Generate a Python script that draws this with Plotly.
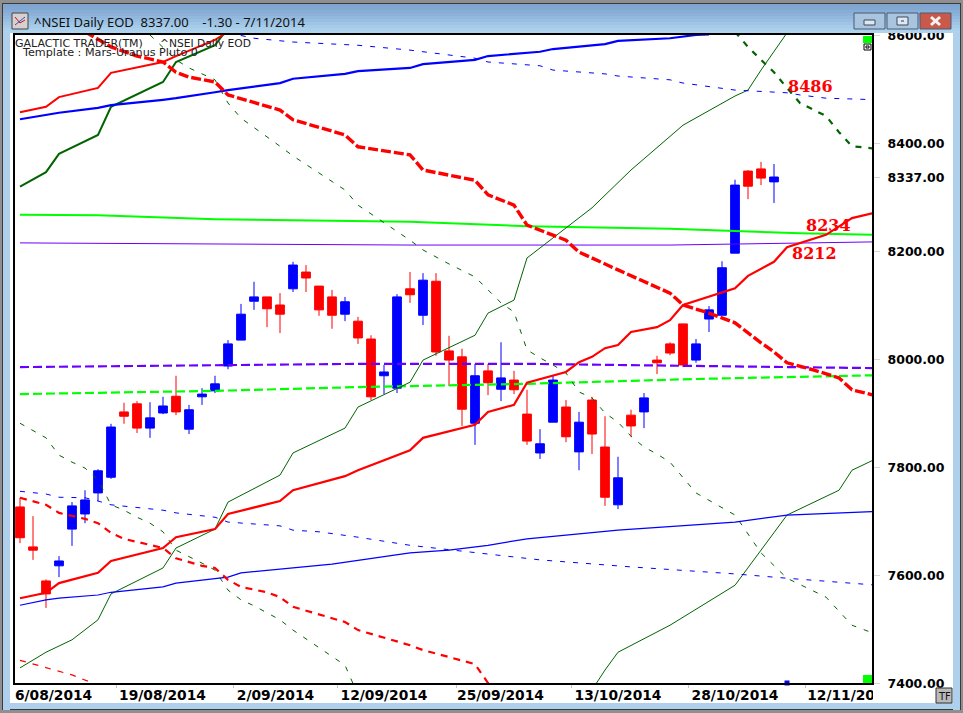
import plotly.graph_objects as go

W, H = 963, 713
L, R, T, B = 15, 872, 35, 683

# --- candles (x = bar number) ---
opens = [7726,7652,7589,7617,7685,7713,7752,7781,7902,7917,7872,7900,7931,7870,7930,7941,7987,8035,8107,8115,
         8100,8130,8161,8135,8115,8083,8070,8037,7969,7946,8130,8081,8144,8015,8004,7881,7978,7944,7961,7898,
         7826,7883,7911,7828,7924,7837,7730,7896,7902,7998,8028,8065,7998,8074,8081,8196,8348,8352,8328]
closes = [7669,7646,7565,7626,7728,7739,7793,7874,7894,7872,7891,7913,7902,7906,7935,7954,8028,8083,8115,8093,
          8083,8174,8150,8091,8081,8106,8039,7930,7976,8115,8119,8146,8013,7998,7907,7969,7956,7965,7943,7848,
          7843,7961,7856,7883,7861,7744,7780,7876,7928,7993,8011,7989,8028,8091,8169,8322,8320,8335,8337]
highs = [7743,7709,7592,7635,7735,7757,7796,7880,7919,7922,7920,7930,7969,7915,7946,7969,8035,8102,8143,8115,
         8122,8180,8174,8135,8128,8115,8078,8044,7989,8120,8161,8159,8159,8043,8019,7991,7991,8031,7978,7943,
         7870,7969,7924,7902,7930,7894,7819,7906,7937,8006,8031,8065,8037,8098,8181,8332,8350,8365,8361]
lows = [7659,7628,7539,7596,7654,7696,7737,7778,7880,7863,7854,7898,7896,7861,7915,7937,7981,8035,8091,8059,
        8048,8124,8124,8080,8056,8070,8028,7924,7935,7937,8104,8063,8006,7950,7876,7841,7933,7922,7935,7841,
        7815,7883,7846,7794,7824,7728,7722,7856,7872,7972,8007,7985,7993,8050,8081,8196,8296,8322,8289]

# --- indicator lines: bar numbers and values ---
red_top_x = [0,2,3,6,7,11,12,15,16]
red_top_v = [8457,8467,8485,8502,8530,8550,8561,8591,8606]
green_top_x = [0,2,3,6,7,11,12,15,16]
green_top_v = [8319,8346,8380,8415,8467,8513,8550,8581,8613]
blue_top_x = [0,2,3,6,7,11,12,15,16,20,21,25,26,30,31,35,36,40,41,45,46,50,52,53]
blue_top_v = [8444,8452,8456,8465,8470,8480,8483,8494,8498,8511,8519,8528,8533,8539,8546,8554,8561,8569,8574,8583,8589,8594,8600,8601]
red_dash_top_x = [5,7,9,11,12,13,15,16,20,21,25,26,30,31,35,36,38,39,42,43,46,50,51,53,55,56,57,58,59,61,63,64,66]
red_dash_top_v = [8606,8578,8561,8550,8531,8522,8513,8489,8461,8443,8415,8393,8378,8350,8331,8304,8285,8248,8220,8198,8165,8122,8100,8085,8067,8048,8030,8013,7993,7980,7965,7943,7931]
green_dash_top_x = [10,12,13,15,16,17,20,21,25,26,30,31,33,35,36,37,38,39,40,41,42,43,44,45,46,47,48,49,50,51,52,55,57,59,62,64,66]
green_dash_top_v = [8600,8554,8539,8517,8474,8446,8394,8376,8313,8285,8220,8202,8176,8152,8128,8104,8087,8017,8002,7989,7974,7939,7928,7900,7883,7857,7837,7824,7809,7780,7752,7711,7641,7594,7559,7507,7489]
blue_dash_top_x = [16,18,21,25,26,30,31,35,36,40,41,45,46,50,51,55,59,60,62,66]
blue_dash_top_v = [8604,8594,8587,8583,8581,8572,8569,8557,8550,8543,8535,8528,8524,8517,8511,8498,8493,8489,8483,8480]
green_heavy_dash_x = [55,56,57,58,59,60,62,63,64,66]
green_heavy_dash_v = [8606,8578,8554,8531,8502,8474,8450,8420,8394,8389]
green_mid_x = [0,2,4,6,7,11,12,15,16,20,21,25,26,30,31,35,36,38,39,43,44,47,51,55,56,57,59]
green_mid_v = [7428,7457,7480,7517,7565,7613,7650,7685,7735,7785,7826,7872,7911,7957,7998,8044,8085,8109,8187,8261,8280,8350,8433,8487,8498,8535,8604]
red_mid_x = [0,2,3,6,7,11,12,15,16,20,21,25,26,30,31,35,36,38,39,42,43,44,45,46,47,49,50,51,55,56,58,59,62,64,66]
red_mid_v = [7557,7567,7585,7604,7626,7650,7670,7685,7713,7737,7757,7783,7794,7831,7854,7878,7902,7915,7956,7976,7994,8004,8020,8026,8050,8059,8072,8100,8131,8154,8180,8207,8230,8261,8272]
red_dash_low_x = [0,1,2,3,4,5,6,7,8,10,11,12,14,15,16,17,19,20,21,25,26,30,31,35,36,37]
red_dash_low_v = [7743,7737,7730,7715,7709,7704,7696,7678,7667,7655,7650,7631,7617,7613,7591,7578,7568,7559,7541,7513,7498,7470,7461,7435,7400,7378]
red_dash_corner_x = [0,2,4,6]
red_dash_corner_v = [7442,7428,7415,7396]
blue_low_x = [0,2,3,6,7,11,12,16,17,24,30,33,36,39,46,55,59,66]
blue_low_v = [7544,7554,7557,7563,7568,7578,7585,7596,7604,7620,7641,7646,7655,7667,7683,7698,7711,7718]
blue_dash_low_x = [0,2,3,5,6,7,11,12,15,16,20,21,23,26,30,35,40,47,55,59,66]
blue_dash_low_v = [7755,7750,7744,7743,7737,7730,7720,7715,7707,7698,7691,7683,7680,7670,7655,7641,7628,7615,7602,7594,7581]
green_dash_low_x = [0,1,2,3,4,5,6,7,8,9,10,11,12,14,15,16,17,18,20,21,25,26]
green_dash_low_v = [7881,7868,7854,7822,7809,7798,7776,7730,7720,7707,7696,7680,7646,7622,7609,7572,7554,7543,7517,7498,7433,7378]
green_low_x = [44,45,46,50,55,57,59,63,64,66]
green_low_v = [7387,7424,7457,7507,7581,7646,7711,7757,7794,7817]
lime_x = [0,6,15,30,39,50,55,60,66]
lime_v = [8267,8266,8259,8254,8246,8241,8237,8233,8230]
purple_x = [0,30,50,59,66]
purple_v = [8215,8211,8211,8215,8217]
purple_dash_x = [0,15,26,39,52,66]
purple_dash_v = [7985,7989,7991,7991,7987,7983]
lime_dash_x = [0,15,26,39,52,66]
lime_dash_v = [7935,7941,7948,7954,7963,7970]

# --- axis labels ---
y_ticks = [7400,7600,7800,8000,8200,8337,8400,8600]
y_labels = ["7400.00","7600.00","7800.00","8000.00","8200.00","8337.00","8400.00","8600.00"]
x_ticks = [2.58,10.96,19.65,28,36.96,46,55,63.9]
x_labels = ["6/08/2014","19/08/2014","2/09/2014","12/09/2014","25/09/2014","13/10/2014","28/10/2014","12/11/2014"]
x_minor = [7.46,16.46,24.46,33.54,42.46,51.46,60.46]

# price labels on the chart: text, bar, value
tag_text = ["8486","8234","8212"]
tag_bar = [60.77,62.2,61.1]
tag_val = [8504,8248,8196]

RED, BLUE, DG, LIME, PURPLE = "#ff0000", "#0000ff", "#006400", "#00ff00", "#6a00ff"
fig = go.Figure()
fig.add_trace(go.Candlestick(
    x=list(range(len(opens))), open=opens, high=highs, low=lows, close=closes,
    increasing=dict(line=dict(color=BLUE, width=1), fillcolor=BLUE),
    decreasing=dict(line=dict(color=RED, width=1), fillcolor=RED),
    whiskerwidth=0, showlegend=False, hoverinfo="skip"))

def line(x, v, color, width, dash="solid"):
    fig.add_trace(go.Scatter(x=x, y=v, mode="lines", showlegend=False, hoverinfo="skip",
                             line=dict(color=color, width=width, dash=dash)))

line(lime_x, lime_v, LIME, 2)
line(purple_x, purple_v, PURPLE, 1)
line(purple_dash_x, purple_dash_v, PURPLE, 2.2, "9px,4px")
line(lime_dash_x, lime_dash_v, LIME, 2.2, "9px,4px")
line(green_dash_top_x, green_dash_top_v, DG, 1, "5px,8px")
line(green_dash_low_x, green_dash_low_v, DG, 1, "5px,8px")
line(green_mid_x, green_mid_v, DG, 1)
line(green_low_x, green_low_v, DG, 1)
line(blue_dash_top_x, blue_dash_top_v, BLUE, 1, "5px,8px")
line(blue_dash_low_x, blue_dash_low_v, BLUE, 1, "5px,8px")
line(blue_low_x, blue_low_v, BLUE, 1.2)
line(green_heavy_dash_x, green_heavy_dash_v, DG, 2.2, "6px,7px")
line(green_top_x, green_top_v, DG, 2)
line(blue_top_x, blue_top_v, BLUE, 2.2)
line(red_top_x, red_top_v, RED, 2)
line(red_mid_x, red_mid_v, RED, 2.2)
line(red_dash_low_x, red_dash_low_v, RED, 2.2, "7px,6px")
line(red_dash_corner_x, red_dash_corner_v, RED, 1.2, "6px,7px")
line(red_dash_top_x, red_dash_top_v, RED, 3.4, "10px,3px")
fig.add_trace(go.Scatter(x=[59], y=[7400], mode="markers", showlegend=False, hoverinfo="skip", cliponaxis=False,
                         marker=dict(symbol="square", size=5, color=BLUE)))

def px(x): return (x - L) / (R - L)
def py(y): return (B - y) / (B - T)
shapes = []
def rect(x0, y0, x1, y1, fill, line_color=None, lw=1, layer="above"):
    shapes.append(dict(type="rect", xref="paper", yref="paper", x0=px(x0), x1=px(x1), y0=py(y0), y1=py(y1),
                       fillcolor=fill, layer=layer, line=dict(color=line_color or fill, width=lw if line_color else 0)))
def seg(x0, y0, x1, y1, color, lw):
    shapes.append(dict(type="line", xref="paper", yref="paper", x0=px(x0), x1=px(x1), y0=py(y0), y1=py(y1),
                       layer="above", line=dict(color=color, width=lw)))

# window frame
rect(0, 0, W, 3, "#8f8f8f"); rect(0, 0, 3, H, "#8f8f8f"); rect(960, 0, W, H, "#8f8f8f"); rect(0, 710, W, H, "#8f8f8f")
rect(3, 3, 960, 4, "#3a3a3a"); rect(2, 3, 3, 710, "#3a3a3a"); rect(960, 3, 961, 710, "#3a3a3a"); rect(3, 709, 960, 710, "#3a3a3a")
bands = ["#7fa5cf","#82a8d2","#87add6","#8cb2da","#92b8de","#98bee2","#9ec5e6","#a5cbe9","#abd0ec","#afd3ee"]
for i, c in enumerate(bands):
    rect(3, 4 + i * 3, 960, 7 + i * 3 if i < 9 else 33, c)
rect(3, 33, 10, 710, "#aed0ec"); rect(953, 33, 960, 710, "#aed0ec"); rect(3, 703, 960, 709, "#aed0ec")
rect(873, 688, 896, 703, "#ffffff")
# system buttons
for x0, c in [(854, "#a9c4df"), (887, "#a9c4df"), (920, "#c9594a")]:
    rect(x0, 13, x0 + 31, 29, c, "#4a5a70")
rect(864, 20, 875, 25, "#dfe8f2", "#3a4a5c")
rect(897, 17, 908, 25, "#dfe8f2", "#3a4a5c")
rect(901, 20, 904, 22, "#7a94b0")
seg(931, 17, 940, 25, "#f4f4f4", 3)
seg(931, 25, 940, 17, "#f4f4f4", 3)
# caption icon
rect(12, 13, 28, 29, "#d8d0d0", "#444444")
seg(15, 17, 20, 23, "#d01010", 1); seg(20, 23, 25, 20, "#d01010", 1)
seg(15, 25, 25, 17, "#3050c0", 1)
# chart widgets
rect(863, 36, 872, 43, LIME)
rect(864, 44, 871, 50, "#ffffff", "#000000")
rect(866, 46, 869, 48, "#ffffff", "#000000")
rect(863, 675, 872, 683, LIME)
rect(936, 688, 952, 703, "#b9b9b9", "#333333")

def text(x, y, s, size, color="#111111", family="DejaVu Sans", anchor="left"):
    return dict(xref="paper", yref="paper", x=px(x), y=py(y), text=s, showarrow=False,
                xanchor=anchor, yanchor="middle", font=dict(family=family, size=size, color=color))

sp = "&nbsp;"
annotations = [
    text(32, 22, f"^NSEI Daily EOD{sp*2}8337.00{sp*4}-1.30 - 7/11/2014", 13, "#101010", "Noto Sans"),
    text(13, 44, "GALACTIC TRADER(TM)", 11, "#222222"),
    text(158, 44, "^NSEI Daily EOD", 10.7, "#222222"),
    text(20, 52, "Template : Mars-Uranus Pluto 0", 11.2, "#222222"),
    text(944, 696, "TF", 10, "#111111", anchor="center"),
]
for t, b, v in zip(tag_text, tag_bar, tag_val):
    annotations.append(dict(xref="x", yref="y", x=b, y=v, text=f"<b>{t}</b>", showarrow=False,
                            font=dict(family="DejaVu Serif", size=16, color=RED)))

fig.update_layout(
    width=W, height=H, autosize=False, margin=dict(l=L, r=W - R, t=T, b=H - B, pad=0, autoexpand=False),
    paper_bgcolor="#ffffff", plot_bgcolor="#ffffff", showlegend=False,
    shapes=shapes, annotations=annotations, boxgap=0.33, boxgroupgap=0,
    xaxis=dict(range=[(L - 20) / 13, (R - 20) / 13], rangeslider=dict(visible=False), showgrid=False, zeroline=False,
               tickmode="array", tickvals=x_ticks, ticktext=x_labels, tickangle=0, ticks="", ticklabelstandoff=-2,
               tickfont=dict(family="DejaVu Sans", size=13.8, color="#000000", weight="bold"),
               showline=True, linecolor="#000000", linewidth=2, mirror=True,
               minor=dict(tickmode="array", tickvals=x_minor, ticks="outside", ticklen=3, tickcolor="#c8c8c8", showgrid=False)),
    yaxis=dict(range=[7400, 8600], side="right", showgrid=False, zeroline=False,
               tickmode="array", tickvals=y_ticks, ticktext=y_labels, ticks="outside", ticklen=6, tickcolor="#d8d8d8",
               ticklabelstandoff=5, ticklabelshift=1, tickfont=dict(family="DejaVu Sans", size=12.5, color="#000000", weight="bold"),
               showline=True, linecolor="#000000", linewidth=2, mirror=True),
)
fig.write_html("out.html", config=dict(displayModeBar=False), post_script="document.body.style.margin='0';")
